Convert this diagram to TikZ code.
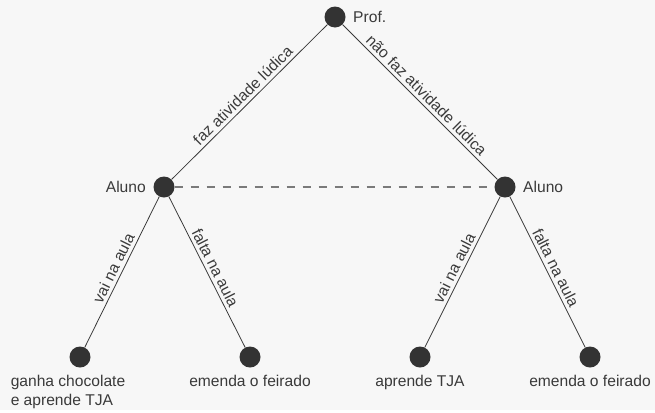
\documentclass[tikz,border=0pt]{standalone}
\usepackage{fontspec}
\setmainfont{Liberation Sans}
\usetikzlibrary{positioning}
\definecolor{bgcol}{HTML}{F7F7F7}
\definecolor{dotcol}{HTML}{333333}
\definecolor{inkcol}{HTML}{3A3A3A}
\definecolor{tiecol}{HTML}{7A7A7A}
\begin{document}
\begin{tikzpicture}[x=1pt,y=-1pt,
  font=\fontsize{15.6}{19}\selectfont, text=inkcol,
  dot/.style={circle,fill=dotcol,inner sep=0pt,minimum size=21pt},
  branch/.style={draw=inkcol,line width=0.8pt},
  tie/.style={draw=tiecol,line width=1.3pt,dash pattern=on 8pt off 8pt},
  elbl/.style={midway,above,sloped},
  leaflbl/.style={text height=11.5pt}]
% Background and bounding box
\fill[bgcol] (0,0) rectangle (655,410);

% Dots
\node[dot] (prof) at (335,17) {};
\node[dot] (aluL) at (164,187) {};
\node[dot] (aluR) at (505,187) {};
\node[dot] (leafA) at (80,357) {};
\node[dot] (leafB) at (250,357) {};
\node[dot] (leafC) at (420,357) {};
\node[dot] (leafD) at (590,357) {};

% Branches
\draw[branch] (prof) -- node[elbl]{faz atividade lúdica} (aluL);
\draw[branch] (prof) -- node[elbl]{não faz atividade lúdica} (aluR);
\draw[branch] (aluL) -- node[elbl]{vai na aula} (leafA);
\draw[branch] (aluL) -- node[elbl]{falta na aula} (leafB);
\draw[branch] (aluR) -- node[elbl]{vai na aula} (leafC);
\draw[branch] (aluR) -- node[elbl]{falta na aula} (leafD);

% Information set
\draw[tie] (aluL) -- (aluR);

% Labels
\node[right=4pt of prof] (proflbl) {Prof.};
\node[left=4pt of aluL] (aluLlbl) {Aluno};
\node[right=4pt of aluR] (aluRlbl) {Aluno};
\node[align=left,below=4pt of leafA,xshift=-12pt] (leafAlbl) {ganha chocolate\\e aprende TJA};
\node[leaflbl,below=4pt of leafB] (leafBlbl) {emenda o feirado};
\node[leaflbl,below=4pt of leafC] (leafClbl) {aprende TJA};
\node[leaflbl,below=4pt of leafD] (leafDlbl) {emenda o feirado};
\end{tikzpicture}
\end{document}
